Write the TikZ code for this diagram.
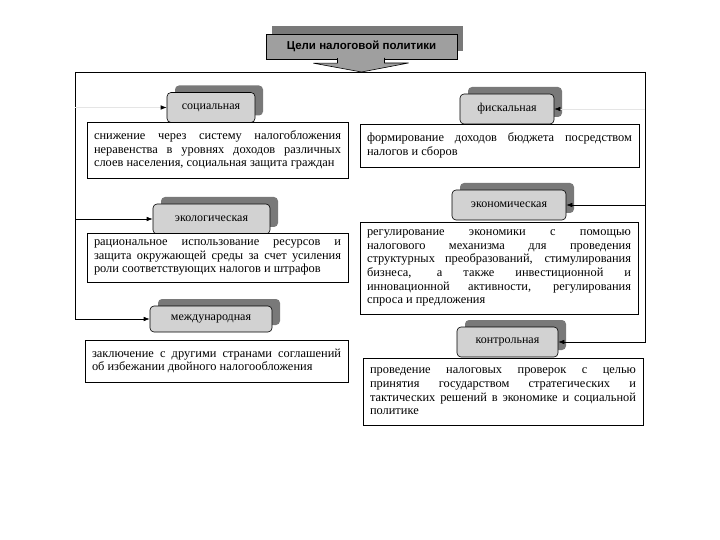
\documentclass[tikz,border=0pt]{standalone}
\usepackage{fontspec}
\setmainfont{Liberation Serif}
\newfontfamily\titleFont{Liberation Sans}
\usetikzlibrary{arrows.meta,shadows}

\hyphenpenalty=10000
\exhyphenpenalty=10000
\tolerance=10000

\def\pillHeight{30}
\def\frameLeft{75}
\def\frameRight{645}
\def\frameTop{72}

\tikzset{
    goalTitle/.style = {draw, fill=gray!75, minimum width=191pt, minimum height=25pt,
        inner sep=0pt, font=\titleFont\bfseries\fontsize{11.5}{13}\selectfont,
        general shadow={shadow xshift=6pt, shadow yshift=8pt, fill=gray!95!black}},
    goalPill/.style = {draw, fill=gray!35, rounded corners=4pt, semithick,
        minimum height=\pillHeight pt, inner sep=0pt,
        font=\fontsize{12}{13}\selectfont,
        general shadow={shadow xshift=8pt, shadow yshift=7pt, fill=gray!95!black}},
    goalText/.style = {draw, fill=white, semithick, align=justify, inner xsep=7pt,
        inner ysep=2pt, font=\fontsize{12.4}{13.7}\selectfont},
    link/.style = {semithick, -{Latex[length=6pt,width=4.5pt]}},
    faintLink/.style = {gray!20, semithick, -{Latex[length=6pt,width=4.5pt,color=black]}}
}

\begin{document}
\begin{tikzpicture}[x=1pt, y=-1pt]
    \useasboundingbox (0,0) rectangle (720,540);

    % title with its arrow
    \node [goalTitle] (title) at (361.5,46.5) {Цели налоговой политики};
    \filldraw [fill=gray!75, semithick]
        (title.south) ++(-24,-1) -- ++(0,5) -- ++(-24,0)
        -- (title.south |- 0,72) coordinate (tip)
        -- ++(47,-9) -- ++(-24,0) -- ++(0,-5)
        ;

    % frame corners
    \coordinate (topLeft) at (\frameLeft,\frameTop);
    \coordinate (topRight) at (\frameRight,\frameTop);
    \draw [semithick] (topLeft) -- (topRight);

    % left column
    \node [goalPill, minimum width=88pt] (social) at (211,107.5) {социальная};
    \node [goalText, text width=247pt, minimum height=56pt] (socialText) at (217.5,150)
        {снижение через систему налогобложения\linebreak
         неравенства в уровнях доходов различных\linebreak
         слоев населения, социальная защита граждан};

    \node [goalPill, minimum width=117pt] (ecology) at (211.5,219) {экологическая};
    \node [goalText, text width=247pt, minimum height=49pt] (ecologyText) at (217.5,257.5)
        {рациональное использование ресурсов и\linebreak
         защита окружающей среды за счет усиления\linebreak
         роли соответствующих налогов и штрафов};

    \node [goalPill, minimum width=122pt, minimum height=26pt] (world) at (211,319) {международная};
    \node [goalText, text width=249pt, minimum height=42pt] (worldText) at (216.5,361)
        {заключение с другими странами соглашений\linebreak
         об избежании двойного налогообложения};

    % right column
    \node [goalPill, minimum width=94pt] (fiscal) at (507,109) {фискальная};
    \node [goalText, text width=265pt, minimum height=43pt] (fiscalText) at (499.5,145.5)
        {формирование доходов бюджета посредством\linebreak
         налогов и сборов};

    \node [goalPill, minimum width=114pt] (economy) at (509,205) {экономическая};
    \node [goalText, text width=264pt, minimum height=92pt] (economyText) at (499,268)
        {регулирование экономики с помощью\linebreak
         налогового механизма для проведения\linebreak
         структурных преобразований, стимулирования\linebreak
         бизнеса, а также инвестиционной и\linebreak
         инновационной активности, регулирования\linebreak
         спроса и предложения};

    \node [goalPill, minimum width=101pt] (control) at (507.5,342) {контрольная};
    \node [goalText, text width=266pt, minimum height=67pt] (controlText) at (503,391.5)
        {проведение налоговых проверок с целью\linebreak
         принятия государством стратегических и\linebreak
         тактических решений в экономике и социальной\linebreak
         политике};

    % connectors
    \draw [link] (topLeft) |- (world.west);
    \draw [link] (topLeft |- ecology.west) -- (ecology.west);
    \draw [faintLink] (topLeft |- social.west) -- (social.west);
    \draw [link] (topRight) |- (control.east);
    \draw [link] (topRight |- economy.east) -- (economy.east);
    \draw [faintLink] (topRight |- fiscal.east) -- (fiscal.east);
\end{tikzpicture}
\end{document}
